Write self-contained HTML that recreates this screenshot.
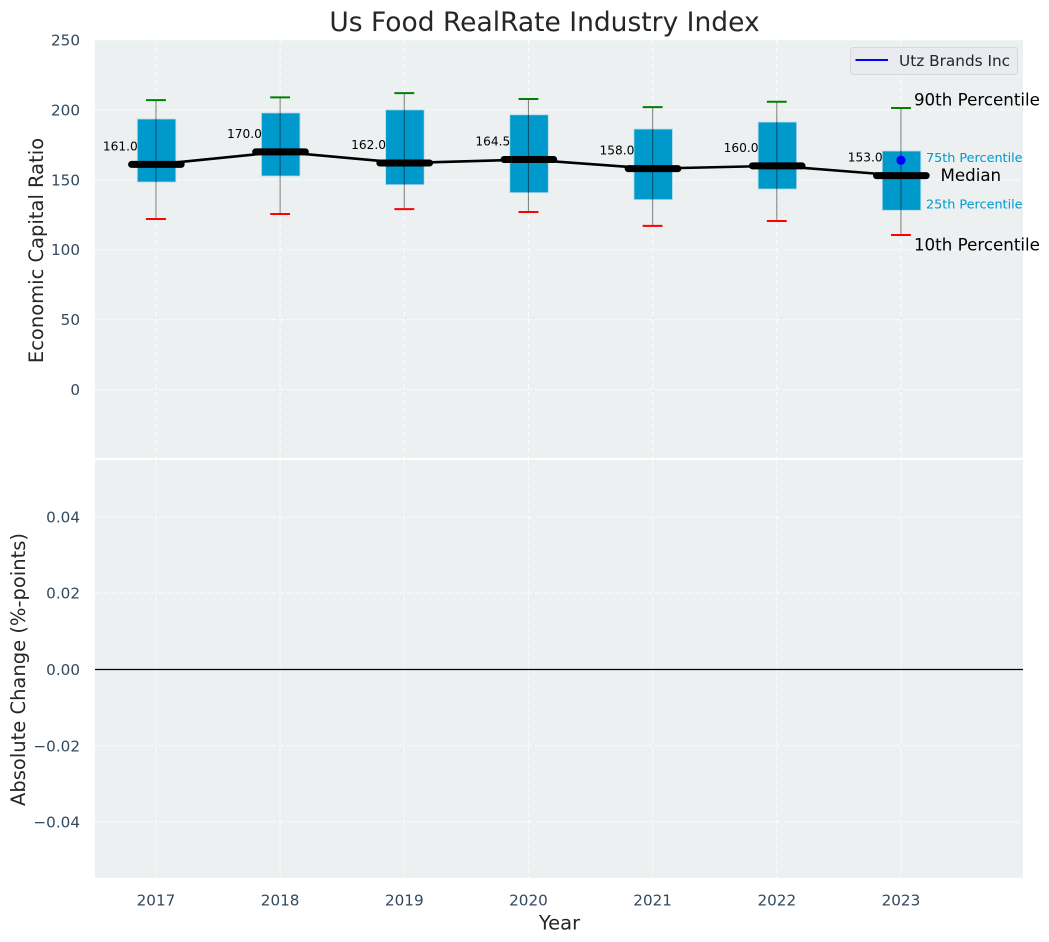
<!DOCTYPE html>
<html lang="en">
<head>
<meta charset="utf-8">
<title>Us Food RealRate Industry Index</title>
<style>
html,body{margin:0;padding:0;background:#fff;}
#chart{display:block;width:1049px;height:942px;font-family:"DejaVu Sans","Liberation Sans",sans-serif;}
</style>
</head>
<body>
<svg id="chart" xmlns="http://www.w3.org/2000/svg" width="1049" height="942" viewBox="0 0 1049 942">
  <text x="544.5" y="31" text-anchor="middle" font-size="26.5px" fill="#262626">Us Food RealRate Industry Index</text>
  <rect x="95" y="40" width="928" height="418" fill="#ecf0f1"/>
  <rect x="95" y="460" width="928" height="418" fill="#ecf0f1"/>
  <g id="grid"></g>
  <g id="ticks"></g>
  <g id="marks"></g>
  <g id="labels"></g>
  <text transform="translate(43,250.5) rotate(-90)" text-anchor="middle" font-size="19.5px" fill="#262626">Economic Capital Ratio</text>
  <text transform="translate(25,669.5) rotate(-90)" text-anchor="middle" font-size="19.5px" fill="#262626">Absolute Change (%-points)</text>
  <text x="559.5" y="929.5" text-anchor="middle" font-size="19.5px" fill="#262626">Year</text>
  <g>
    <rect x="850.5" y="47.5" width="167" height="27" rx="3" fill="#e9ebf0" stroke="#d6d8dc"/>
    <line x1="855.5" y1="60" x2="888" y2="60" stroke="#0000ff" stroke-width="2"/>
    <text x="899" y="66" font-size="15.3px" fill="#262626">Utz Brands Inc</text>
  </g>
</svg>
<script>
const years = [2017, 2018, 2019, 2020, 2021, 2022, 2023];
const median = [161, 170, 162, 164.5, 158, 160, 153];
const p75 = [193.5, 197.8, 200, 196.5, 186.3, 191.3, 170.6];
const p25 = [148.4, 152.7, 146.5, 140.8, 135.8, 143.4, 128.2];
const p90 = [207, 209, 212, 207.8, 202, 205.8, 201.4];
const p10 = [122, 125.5, 129, 127, 117, 120.5, 110.5];
const companyYears = [2023];
const companyValues = [164];
const topTicks = [0, 50, 100, 150, 200, 250];
const bottomTicks = [-0.04, -0.02, 0, 0.02, 0.04];
const bottomTickLabels = ["\u22120.04", "\u22120.02", "0.00", "0.02", "0.04"];
const zeroLine = [0];

const NS = "http://www.w3.org/2000/svg";
const xDomain = [2016.509, 2023.983];
const xRange = [95, 1023];
function xScale(v) {
  return xRange[0] + (v - xDomain[0]) / (xDomain[1] - xDomain[0]) * (xRange[1] - xRange[0]);
}
function xDelta(d) {
  return d / (xDomain[1] - xDomain[0]) * (xRange[1] - xRange[0]);
}
function yTop(v) {
  return 389.5 - v * 1.398;
}
function yBottom(v) {
  return 669.5 - v * 3813;
}
function make(parent, tag, attrs, text) {
  const el = document.createElementNS(NS, tag);
  for (const k in attrs) el.setAttribute(k, attrs[k]);
  if (text !== undefined) el.textContent = text;
  parent.appendChild(el);
  return el;
}
const grid = document.getElementById("grid");
const ticks = document.getElementById("ticks");
const marks = document.getElementById("marks");
const labels = document.getElementById("labels");
const gridStyle = {stroke: "#ffffff", "stroke-width": 1, "stroke-dasharray": "5 3", opacity: 0.85};
const tickFont = "15.2px";
const keyFont = "16.7px";
const smallKeyFont = "12.8px";

topTicks.forEach(function (t) {
  const g = make(grid, "line", Object.assign({x1: 95, x2: 1023, y1: yTop(t), y2: yTop(t)}, gridStyle));
  
  
  const l = make(ticks, "text", {x: 80, y: yTop(t) + 5.5, "text-anchor": "end", "font-size": tickFont, fill: "#34495e"}, String(t));
  
  
});
bottomTicks.forEach(function (t, i) {
  const g = make(grid, "line", Object.assign({x1: 95, x2: 1023, y1: yBottom(t), y2: yBottom(t)}, gridStyle));
  
  
  const l = make(ticks, "text", {x: 80, y: yBottom(t) + 5.5, "text-anchor": "end", "font-size": tickFont, fill: "#34495e"}, bottomTickLabels[i]);
  
  
});
years.forEach(function (yr) {
  const x = xScale(yr);
  const g1 = make(grid, "line", Object.assign({x1: x, x2: x, y1: 40, y2: 458}, gridStyle));
  
  
  const g2 = make(grid, "line", Object.assign({x1: x, x2: x, y1: 460, y2: 878}, gridStyle));
  
  
  const l = make(ticks, "text", {x: x, y: 905.5, "text-anchor": "middle", "font-size": tickFont, fill: "#34495e"}, String(yr));
  
  
});
zeroLine.forEach(function (v) {
  const z = make(marks, "line", {x1: 95, x2: 1023, y1: yBottom(v), y2: yBottom(v), stroke: "#000000", "stroke-width": 1.2});
  
  
});

const boxHalf = xDelta(0.155);
const capHalf = xDelta(0.08);
const medianHalf = xDelta(0.2);

years.forEach(function (yr, i) {
  const x = xScale(yr);
  const box = make(marks, "rect", {x: x - boxHalf + 0.6, y: yTop(p75[i]), width: boxHalf * 2, height: yTop(p25[i]) - yTop(p75[i]), fill: "#0099cc", stroke: "#b5dcea", "stroke-width": 0.8});
  
  
});
const medianPath = make(marks, "polyline", {points: years.map(function (yr, i) { return xScale(yr) + "," + yTop(median[i]); }).join(" "), fill: "none", stroke: "#000000", "stroke-width": 2.6});


years.forEach(function (yr, i) {
  const x = xScale(yr);
  const w = make(marks, "line", {x1: x, x2: x, y1: yTop(p90[i]), y2: yTop(p10[i]), stroke: "#000000", "stroke-opacity": 0.45, "stroke-width": 1.1});
  
  
  const c90 = make(marks, "line", {x1: x - capHalf, x2: x + capHalf, y1: yTop(p90[i]), y2: yTop(p90[i]), stroke: "#008000", "stroke-width": 2});
  
  
  const c10 = make(marks, "line", {x1: x - capHalf, x2: x + capHalf, y1: yTop(p10[i]), y2: yTop(p10[i]), stroke: "#ff0000", "stroke-width": 2});
  
  
  const m = make(marks, "line", {x1: x - medianHalf + 0.4, x2: x + medianHalf + 0.4, y1: yTop(median[i]), y2: yTop(median[i]), stroke: "#000000", "stroke-width": 7, "stroke-linecap": "round"});
  
  
  const t = make(labels, "text", {x: x - boxHalf + 1, y: yTop(median[i]) - 14, "text-anchor": "end", "font-size": "12.2px", fill: "#000000"}, median[i].toFixed(1));
  
  
});
companyYears.forEach(function (yr, i) {
  const dot = make(marks, "circle", {cx: xScale(yr), cy: yTop(companyValues[i]), r: 4.6, fill: "#0000ff"});
  
  
});

const last = years.length - 1;
const lastX = xScale(years[last]);
const l90 = make(labels, "text", {x: lastX + 13, y: yTop(p90[last]) - 2.5, "font-size": keyFont, fill: "#000000"}, "90th Percentile");


const l10 = make(labels, "text", {x: lastX + 13, y: yTop(p10[last]) + 15.5, "font-size": keyFont, fill: "#000000"}, "10th Percentile");


const lMed = make(labels, "text", {x: lastX + 39.5, y: yTop(median[last]) + 5.5, "font-size": keyFont, fill: "#000000"}, "Median");


const l75 = make(labels, "text", {x: lastX + 25, y: yTop(p75[last]) + 11, "font-size": smallKeyFont, fill: "#0099cc"}, "75th Percentile");


const l25 = make(labels, "text", {x: lastX + 25, y: yTop(p25[last]) - 2, "font-size": smallKeyFont, fill: "#0099cc"}, "25th Percentile");


</script>
</body>
</html>
